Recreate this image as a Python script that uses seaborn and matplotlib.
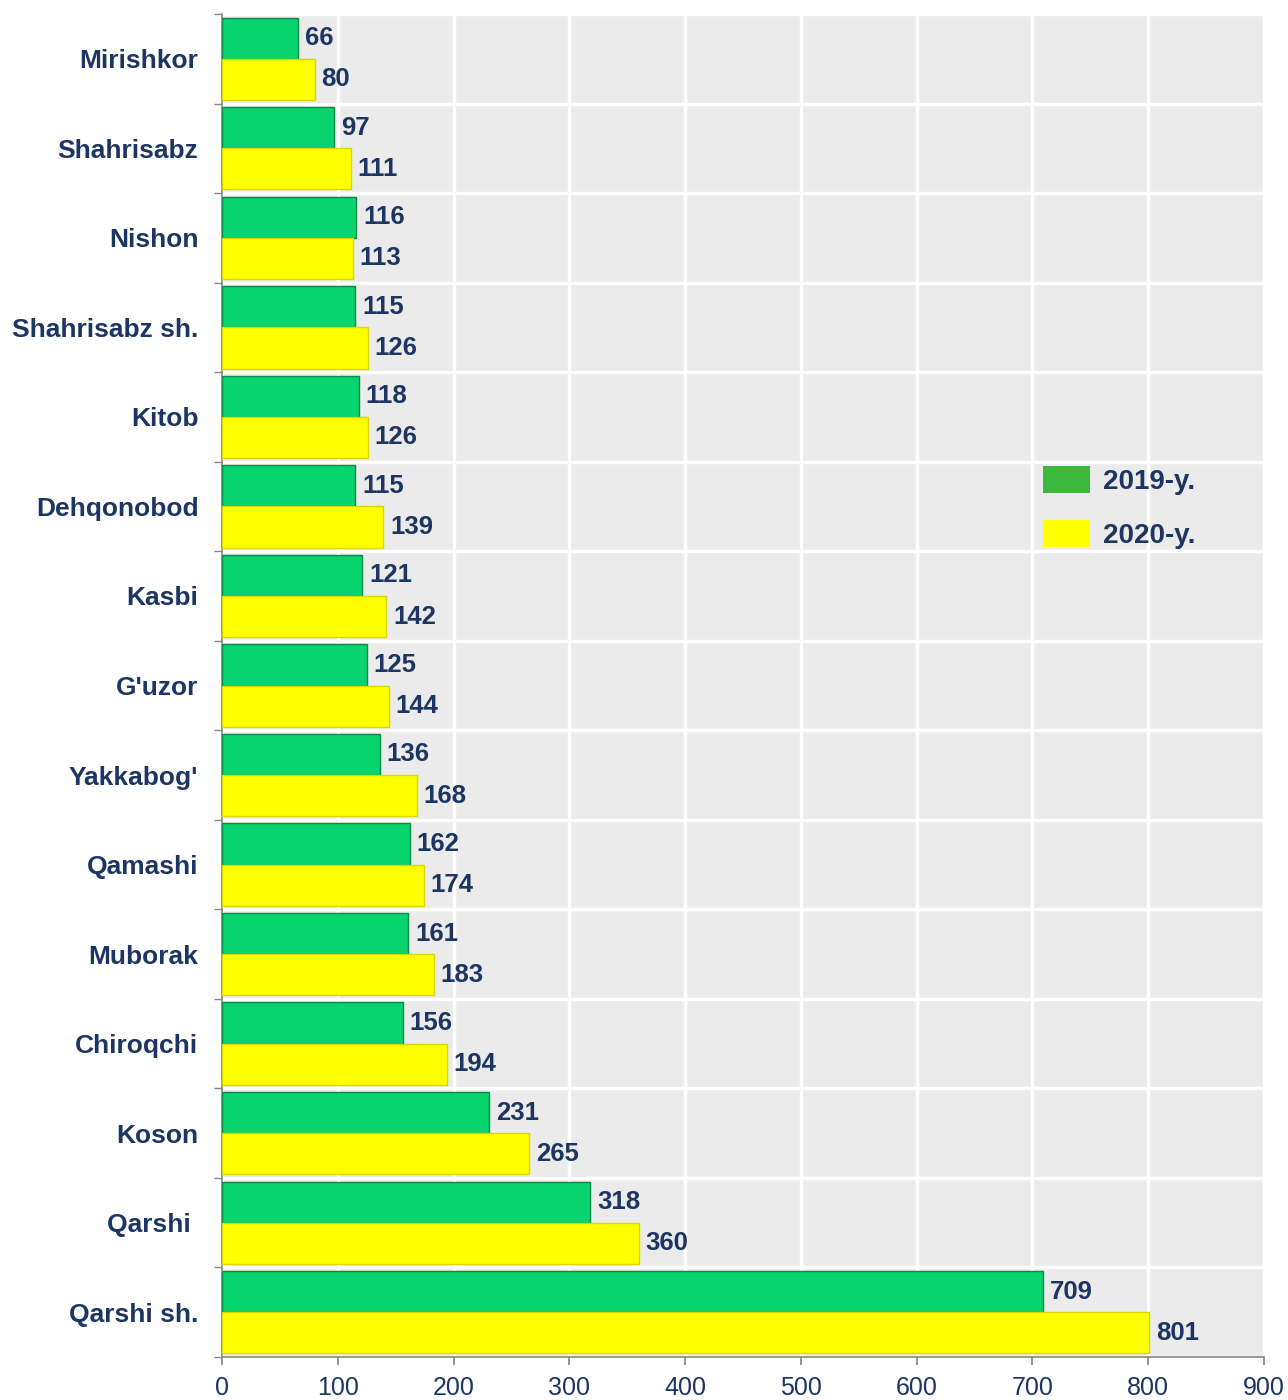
import matplotlib
matplotlib.use("Agg")
import matplotlib.pyplot as plt
import seaborn as sns
import pandas as pd
import numpy as np
from matplotlib.patches import Patch

regions = ["Mirishkor", "Shahrisabz", "Nishon", "Shahrisabz sh.", "Kitob", "Dehqonobod",
           "Kasbi", "G'uzor", "Yakkabog'", "Qamashi", "Muborak", "Chiroqchi", "Koson",
           "Qarshi ", "Qarshi sh."]
values_2019 = [66, 97, 116, 115, 118, 115, 121, 125, 136, 162, 161, 156, 231, 318, 709]
values_2020 = [80, 111, 113, 126, 126, 139, 142, 144, 168, 174, 183, 194, 265, 360, 801]
series = ["2019-y.", "2020-y."]
x_ticks = [0, 100, 200, 300, 400, 500, 600, 700, 800, 900]

df = pd.DataFrame({
    "region": regions * 2,
    "value": values_2019 + values_2020,
    "year": [series[0]] * len(regions) + [series[1]] * len(regions),
})

sns.set_theme(style="white")
plt.rcParams['font.family'] = ['Liberation Sans', 'DejaVu Sans']

navy = "#1c3562"
green = "#07d46c"
yellow = "#ffff00"

fig = plt.figure(figsize=(12.88, 14), dpi=100)
ax = fig.add_axes([0.1724, 0.0307, 0.809, 0.9593])
ax.set_facecolor("#ebebeb")

sns.barplot(data=df, y="region", x="value", hue="year", order=regions, hue_order=series,
            palette=[green, yellow], width=0.92, dodge=True, ax=ax, legend=False,
            saturation=1)

for i, cont in enumerate(ax.containers):
    for bar in cont:
        if i == 0:
            bar.set_edgecolor("#0a8a48")
        else:
            bar.set_edgecolor("#d8d800")
        bar.set_linewidth(1.0)
        bar.set_zorder(3)
    ax.bar_label(cont, padding=5, fontsize=18.5, fontweight="bold", color=navy, zorder=4)

ax.set_xlim(0, 900)
ax.set_ylim(len(regions) - 0.5, -0.5)
ax.set_xticks(x_ticks)
ax.set_xticklabels([str(t) for t in x_ticks], fontsize=18, color=navy)
ax.set_yticks(range(len(regions)))
ax.set_yticklabels(regions, fontsize=19, fontweight="bold", color=navy)
ax.set_yticks(np.arange(-0.5, len(regions), 1), minor=True)
ax.tick_params(axis="y", which="major", length=0, pad=17)
ax.tick_params(axis="y", which="minor", length=6, color="#888888", direction="out", left=True)
ax.tick_params(axis="x", which="major", length=6, color="#888888", direction="out", bottom=True, pad=8)
ax.set_xlabel("")
ax.set_ylabel("")

ax.grid(False)
ax.xaxis.grid(True, which="major", color="white", linewidth=2.5, zorder=1)
ax.yaxis.grid(True, which="minor", color="white", linewidth=2.5, zorder=1)
ax.set_axisbelow(True)

for s in ["top", "right"]:
    ax.spines[s].set_visible(False)
for s in ["left", "bottom"]:
    ax.spines[s].set_color("#888888")
    ax.spines[s].set_linewidth(1.2)

handles = [Patch(facecolor="#3cb83c", edgecolor="none"), Patch(facecolor=yellow, edgecolor="none")]
leg = ax.legend(handles, series, loc="upper left", bbox_to_anchor=(0.764, 0.682),
                frameon=False, fontsize=20, handlelength=1.7, handleheight=1.1,
                labelspacing=0.9, handletextpad=0.45)
for t in leg.get_texts():
    t.set_color(navy)
    t.set_fontweight("bold")

fig.savefig("out.png", dpi=100)
